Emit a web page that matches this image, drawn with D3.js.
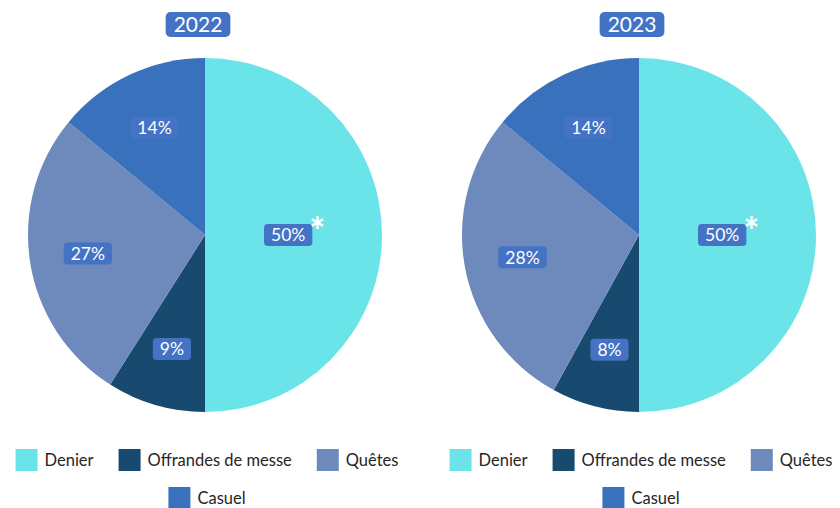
<!DOCTYPE html>
<html>
<head>
<meta charset="utf-8">
<script src="https://cdn.jsdelivr.net/npm/d3@7"></script>
<style>
  body { margin: 0; background: #fff; }
  svg { font-family: "Lato", "Noto Sans", sans-serif; }
</style>
</head>
<body>
<div id="chart"></div>
<script>
// categories and values
const categories = ["Denier", "Offrandes de messe", "Quêtes", "Casuel"];
const years = ["2022", "2023"];
const values2022 = [50, 9, 27, 14];
const values2023 = [50, 8, 28, 14];
const colors = ["#6ae4e8", "#174a6e", "#6e8abd", "#3a71bd"];

const width = 840;
const height = 508;
const radius = 177;
const cy = 235;

const svg = d3.select("#chart").append("svg")
    .attr("width", width)
    .attr("height", height);

const xScale = d3.scalePoint()
    .domain(years)
    .range([205, 639]);

const color = d3.scaleOrdinal()
    .domain(categories)
    .range(colors);

const pie = d3.pie().sort(null).value(d => d.value);
const arc = d3.arc().innerRadius(0).outerRadius(radius);
// Denier label sits closer to the center, the smaller ones further out
const labelArc = d3.arc().innerRadius(radius * 0.67).outerRadius(radius * 0.67);
const bigLabelArc = d3.arc().innerRadius(radius * 0.47).outerRadius(radius * 0.47);

const series = [values2022, values2023];

years.forEach((year, i) => {
    const rows = categories.map((c, j) => ({ category: c, value: series[i][j] }));
    const cx = xScale(year);
    const g = svg.append("g").attr("transform", `translate(${cx},${cy})`);

    g.selectAll("path.slice")
        .data(pie(rows))
        .enter()
        .append("path")
        .attr("class", "slice")
        .attr("d", arc)
        .attr("fill", d => color(d.data.category));

    // percentage labels in blue boxes
    const labels = g.selectAll("g.lbl")
        .data(pie(rows))
        .enter()
        .append("g")
        .attr("class", "lbl")
        .attr("transform", d => {
            const c = (d.data.category === "Denier" ? bigLabelArc : labelArc).centroid(d);
            return `translate(${c[0]},${c[1]})`;
        });

    labels.append("text")
        .attr("text-anchor", "middle")
        .attr("dy", "0.36em")
        .attr("fill", "#fff")
        .attr("font-size", 17.5)
        .text(d => d.data.value + "%");

    labels.each(function(d) {
        const sel = d3.select(this);
        const bb = sel.select("text").node().getBBox();
        sel.insert("rect", "text")
            .attr("x", bb.x - 7)
            .attr("y", -11)
            .attr("width", bb.width + 14)
            .attr("height", 22)
            .attr("rx", 4)
            .attr("fill", "#4472c4");
        if (d.data.category === "Denier") {
            sel.append("text")
                .attr("x", bb.x + bb.width + 12)
                .attr("y", 10)
                .attr("text-anchor", "middle")
                .attr("fill", "#fff")
                .attr("font-size", 38)
                .attr("font-weight", "bold")
                .text("*");
        }
    });

    // year title
    const title = svg.append("g").attr("transform", `translate(${cx - 7},24)`);
    title.append("text")
        .attr("text-anchor", "middle")
        .attr("dy", "0.36em")
        .attr("fill", "#fff")
        .attr("font-size", 21)
        .text(year);
    const tb = title.select("text").node().getBBox();
    title.insert("rect", "text")
        .attr("x", tb.x - 8)
        .attr("y", -12)
        .attr("width", tb.width + 16)
        .attr("height", 25)
        .attr("rx", 5)
        .attr("fill", "#4472c4");

    // legend: first three on a row, Casuel below, centered under the pie
    const legendRows = [categories.slice(0, 3), categories.slice(3)];
    legendRows.forEach((row, r) => {
        const lg = svg.append("g");
        let x = 0;
        row.forEach(c => {
            const item = lg.append("g").attr("transform", `translate(${x},0)`);
            item.append("rect")
                .attr("x", 0)
                .attr("y", -11)
                .attr("width", 22)
                .attr("height", 22)
                .attr("fill", color(c));
            const t = item.append("text")
                .attr("x", 29)
                .attr("dy", "0.35em")
                .attr("fill", "#262626")
                .attr("font-size", 16.5)
                .text(c);
            x += 29 + t.node().getComputedTextLength() + 25;
        });
        const w = x - 25;
        lg.attr("transform", `translate(${cx + 2 - w / 2},${460 + r * 38})`);
    });
});
</script>
</body>
</html>
